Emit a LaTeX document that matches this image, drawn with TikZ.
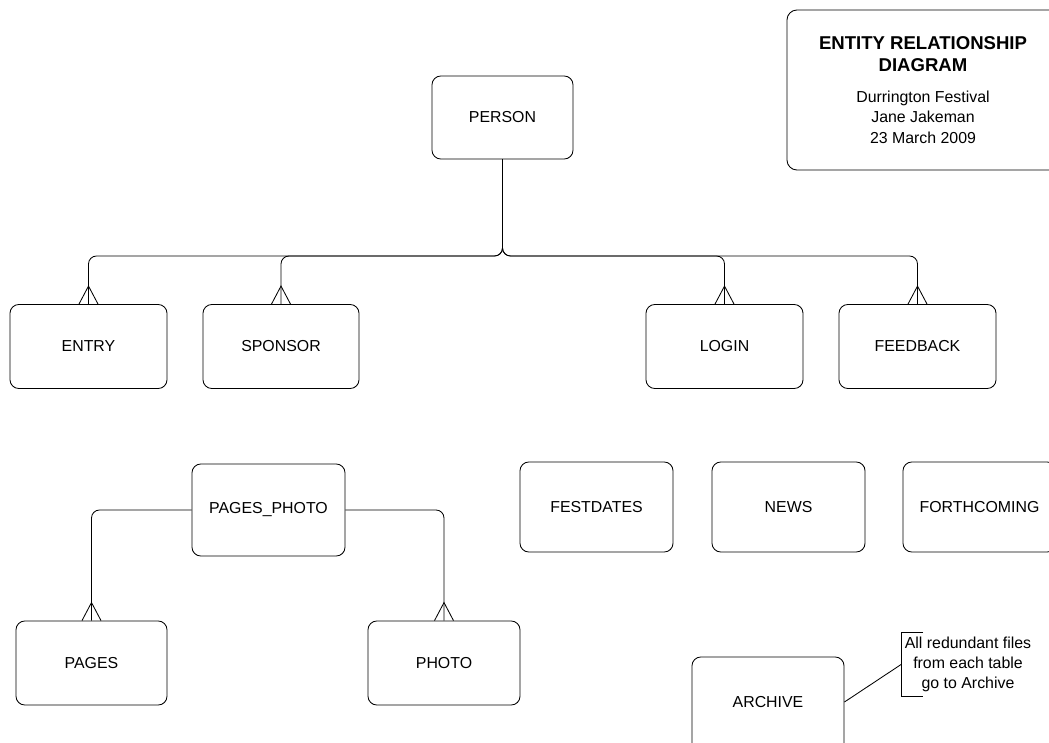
\documentclass[tikz,border=0pt]{standalone}
\usepackage{fontspec}
\setmainfont{Liberation Sans}
\usetikzlibrary{calc}
\tikzset{
  entity/.style={draw,rounded corners=0.22cm,line width=0.6pt,minimum width=3.925cm,minimum height=2.1cm,font=\fontsize{11.3}{13.5}\selectfont},
  link/.style={line width=0.6pt,rounded corners=0.2cm},
  foot/.style={line width=0.6pt},
  note/.style={align=center,inner xsep=2.5pt,inner ysep=0pt,minimum height=1.575cm,font=\fontsize{11.3}{14.2}\selectfont}
}
\newcommand{\titlefont}{\fontsize{13.2}{15.6}\selectfont\bfseries}

\begin{document}
\begin{tikzpicture}[x=0.025cm,y=-0.025cm]
\useasboundingbox (0,0) rectangle (1049,742);

% title block
\node[draw,rounded corners=0.25cm,line width=0.6pt,minimum width=6.8cm,minimum height=4cm,align=center,font=\fontsize{11.3}{14.6}\selectfont] (title) at (923,90)
  {{\titlefont ENTITY RELATIONSHIP}\\[1pt]{\titlefont DIAGRAM}\\[7pt]Durrington Festival\\Jane Jakeman\\23 March 2009};

% entities
\node[entity,minimum width=3.525cm,minimum height=2.075cm] (person) at (502.5,117.5) {PERSON};
\node[entity] (entry) at (88.5,346.5) {ENTRY};
\node[entity,minimum width=3.9cm] (sponsor) at (281,346.5) {SPONSOR};
\node[entity] (login) at (724.5,346.5) {LOGIN};
\node[entity] (feedback) at (917.5,346.5) {FEEDBACK};

\node[entity,minimum width=3.825cm,minimum height=2.3cm] (pagesphoto) at (268.5,510) {PAGES\_PHOTO};
\node[entity,minimum width=3.825cm,minimum height=2.25cm] (festdates) at (596.5,507) {FESTDATES};
\node[entity,minimum width=3.825cm,minimum height=2.25cm] (news) at (788.5,507) {NEWS};
\node[entity,minimum width=3.825cm,minimum height=2.25cm] (forthcoming) at (979.5,507) {FORTHCOMING};

\node[entity,minimum width=3.775cm] (pages) at (91.5,663) {PAGES};
\node[entity,minimum width=3.8cm] (photo) at (444,663) {PHOTO};
\node[entity,minimum width=3.8cm,minimum height=2.5cm,text depth=0.25cm] (archive) at (768,707) {ARCHIVE};

% relationships
\coordinate (bus) at (502.5,256);
\foreach \n in {entry,sponsor,login,feedback}
  \draw[link] (person.south) |- (\n.north |- bus) -- (\n.north);
\draw[link] (pagesphoto.west) -| (pages.north);
\draw[link] (pagesphoto.east) -| (photo.north);

% crow's feet
\foreach \n in {entry,sponsor,login,feedback,pages,photo}
  \draw[foot] (\n.north) ++(-9.5,0) -- ++(9.5,-18) -- ++(9.5,18);

% annotation
\node[note] (note) at (968,664.5) {All redundant files\\from each table\\go to Archive};
\draw[foot] (note.north west) ++(22,0) -| (note.south west) -- ++(22,0);
\draw[foot] (archive.east |- 0,702) -- (note.west);

\end{tikzpicture}
\end{document}
